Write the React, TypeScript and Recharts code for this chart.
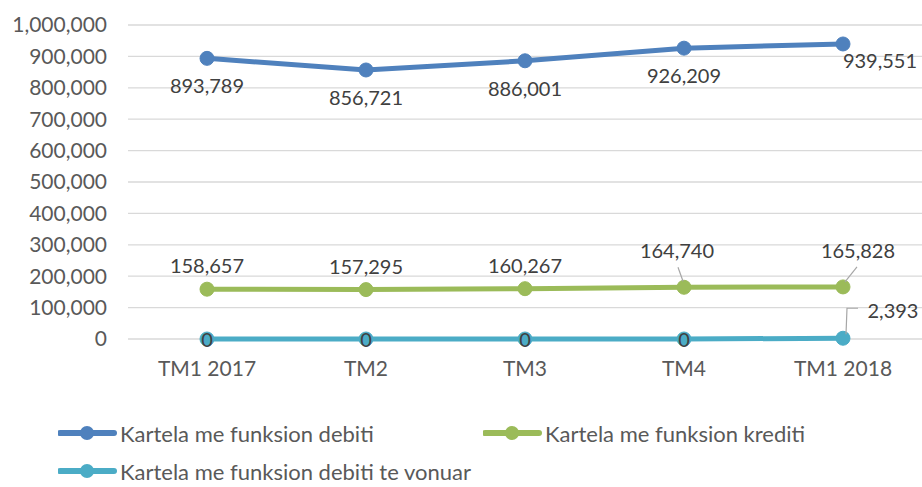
import React from 'react';
import { LineChart, Line, XAxis, YAxis, CartesianGrid, Legend, LabelList } from 'recharts';

const categories = ['TM1 2017', 'TM2', 'TM3', 'TM4', 'TM1 2018'];
const debitValues = [893789, 856721, 886001, 926209, 939551];
const creditValues = [158657, 157295, 160267, 164740, 165828];
const lateDebitValues = [0, 0, 0, 0, 2393];
const yTicks = [0, 100000, 200000, 300000, 400000, 500000, 600000, 700000, 800000, 900000, 1000000];

const seriesNames = {
  debit: 'Kartela me funksion debiti',
  credit: 'Kartela me funksion krediti',
  late: 'Kartela me funksion debiti te vonuar',
};

const COLORS = { debit: '#4F81BD', credit: '#9BBB59', late: '#4BACC6' };
const FONT = 'Lato, "Noto Sans", sans-serif';
const LABEL_COLOR = '#404040';
const AXIS_COLOR = '#595959';

const data = categories.map((name, i) => ({
  name,
  debit: debitValues[i],
  credit: creditValues[i],
  late: lateDebitValues[i],
}));

const fmt = (v: number) => Number(v).toLocaleString('en-US');

const DebitLabel = (props: any) => {
  const { x, y, value, index } = props;
  const last = index === debitValues.length - 1;
  return (
    <text x={x + (last ? 37 : 0)} y={y + (last ? 16 : 27)} textAnchor="middle" dominantBaseline="central"
      fill={LABEL_COLOR} fontSize={20} fontFamily={FONT}>
      {fmt(value)}
    </text>
  );
};

const CreditLabel = (props: any) => {
  const { x, y, value, index } = props;
  if (index === 3) {
    return (
      <g>
        <line x1={x - 6} y1={y - 20} x2={x - 1} y2={y - 6} stroke="#A6A6A6" strokeWidth={1.2} />
        <text x={x - 7} y={y - 37} textAnchor="middle" dominantBaseline="central" fill={LABEL_COLOR} fontSize={20} fontFamily={FONT}>
          {fmt(value)}
        </text>
      </g>
    );
  }
  if (index === 4) {
    return (
      <g>
        <line x1={x + 14} y1={y - 20} x2={x + 2} y2={y - 5} stroke="#A6A6A6" strokeWidth={1.2} />
        <text x={x + 15} y={y - 37} textAnchor="middle" dominantBaseline="central" fill={LABEL_COLOR} fontSize={20} fontFamily={FONT}>
          {fmt(value)}
        </text>
      </g>
    );
  }
  return (
    <text x={x} y={y - 24} textAnchor="middle" dominantBaseline="central" fill={LABEL_COLOR} fontSize={20} fontFamily={FONT}>
      {fmt(value)}
    </text>
  );
};

const LateLabel = (props: any) => {
  const { x, y, value, index } = props;
  if (index === lateDebitValues.length - 1) {
    return (
      <g>
        <polyline points={`${x + 3},${y - 4} ${x + 4},${y - 30} ${x + 15},${y - 30}`} fill="none" stroke="#A6A6A6" strokeWidth={1.2} />
        <text x={x + 50} y={y - 28} textAnchor="middle" dominantBaseline="central" fill={LABEL_COLOR} fontSize={20} fontFamily={FONT}>
          {fmt(value)}
        </text>
      </g>
    );
  }
  return (
    <text x={x} y={y} textAnchor="middle" dominantBaseline="central" fill={LABEL_COLOR} fontSize={20} fontFamily={FONT}>
      {fmt(value)}
    </text>
  );
};

const legendSpots: Record<string, { left: number; top: number }> = {
  debit: { left: 58, top: 3 },
  credit: { left: 483, top: 3 },
  late: { left: 58, top: 41 },
};

const renderLegend = () => (
  <div style={{ position: 'relative', width: 922, height: 76 }}>
    {(['debit', 'credit', 'late'] as const).map((key) => (
      <div key={key} style={{ position: 'absolute', left: legendSpots[key].left, top: legendSpots[key].top, height: 38, display: 'flex', alignItems: 'center' }}>
        <svg width={60} height={20}>
          <line x1={2} y1={10} x2={56} y2={10} stroke={COLORS[key]} strokeWidth={6} strokeLinecap="round" />
          <circle cx={29} cy={10} r={7} fill={COLORS[key]} />
        </svg>
        <span style={{ fontFamily: FONT, fontSize: 22, color: AXIS_COLOR, marginLeft: 2, whiteSpace: 'nowrap' }}>
          {seriesNames[key]}
        </span>
      </div>
    ))}
  </div>
);

export default function App() {
  return (
    <div style={{ position: 'absolute', left: 0, top: 0, width: 922, height: 487, background: '#fff' }}>
      <LineChart width={922} height={487} data={data} margin={{ top: 25, right: 0, bottom: 0, left: 0 }}>
        <CartesianGrid vertical={false} stroke="#D9D9D9" strokeWidth={1.3} />
        <XAxis dataKey="name" axisLine={false} tickLine={false} tickMargin={16} height={72}
          padding={{ left: 79, right: 79 }} tick={{ fill: AXIS_COLOR, fontSize: 21, fontFamily: FONT }} />
        <YAxis width={128} domain={[0, 1000000]} ticks={yTicks} interval={0} axisLine={false} tickLine={false}
          tickMargin={15} tickFormatter={fmt} tick={{ fill: AXIS_COLOR, fontSize: 21, fontFamily: FONT }} />
        <Legend verticalAlign="bottom" content={renderLegend} wrapperStyle={{ left: 0, width: 922, height: 76 }} />
        <Line dataKey="debit" name={seriesNames.debit} stroke={COLORS.debit} strokeWidth={5} isAnimationActive={false}
          dot={{ r: 7, fill: COLORS.debit, stroke: COLORS.debit, strokeWidth: 1 }} activeDot={false}>
          <LabelList dataKey="debit" content={DebitLabel} />
        </Line>
        <Line dataKey="credit" name={seriesNames.credit} stroke={COLORS.credit} strokeWidth={5} isAnimationActive={false}
          dot={{ r: 7, fill: COLORS.credit, stroke: COLORS.credit, strokeWidth: 1 }} activeDot={false}>
          <LabelList dataKey="credit" content={CreditLabel} />
        </Line>
        <Line dataKey="late" name={seriesNames.late} stroke={COLORS.late} strokeWidth={5} isAnimationActive={false}
          dot={{ r: 7, fill: COLORS.late, stroke: COLORS.late, strokeWidth: 1 }} activeDot={false}>
          <LabelList dataKey="late" content={LateLabel} />
        </Line>
      </LineChart>
    </div>
  );
}
